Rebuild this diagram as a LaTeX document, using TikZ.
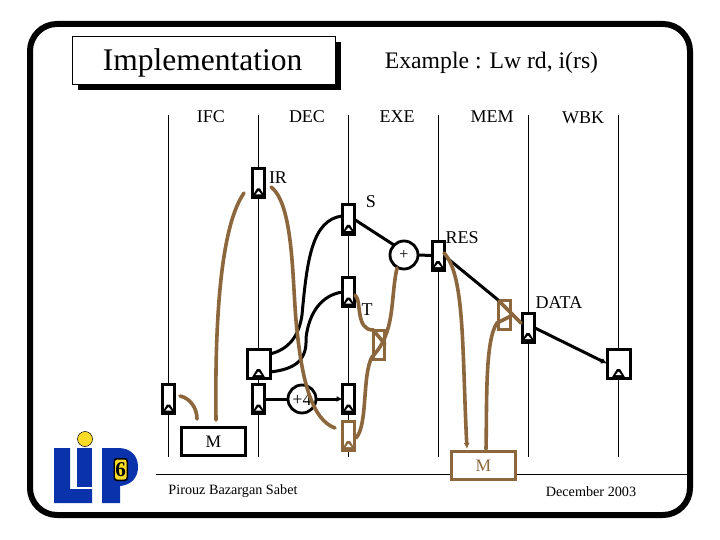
\documentclass[tikz,border=0pt]{standalone}
\usepackage{fontspec}
\setmainfont{Liberation Serif}
\usetikzlibrary{arrows.meta}
\definecolor{brn}{RGB}{140,102,60}
\definecolor{lipblue}{RGB}{10,50,170}
\definecolor{lipyel}{RGB}{250,220,40}
\tikzset{
  reg/.style={draw=black,line width=3pt,fill=white,minimum width=12pt,minimum height=29pt,inner sep=0pt,outer sep=0pt,
    path picture={\fill[black] ([xshift=-7pt]path picture bounding box.south) -- ([xshift=-1.5pt,yshift=9pt]path picture bounding box.south) -- ([xshift=1.5pt,yshift=9pt]path picture bounding box.south) -- ([xshift=7pt]path picture bounding box.south) -- cycle;
      \fill[white] ([xshift=-3pt,yshift=3pt]path picture bounding box.south) -- ([yshift=6.5pt]path picture bounding box.south) -- ([xshift=3pt,yshift=3pt]path picture bounding box.south) -- cycle;}},
  bigreg/.style={reg,minimum width=23pt},
  brnreg/.style={reg,draw=brn,
    path picture={\fill[brn] ([xshift=-7pt]path picture bounding box.south) -- ([xshift=-1.5pt,yshift=9pt]path picture bounding box.south) -- ([xshift=1.5pt,yshift=9pt]path picture bounding box.south) -- ([xshift=7pt]path picture bounding box.south) -- cycle;
      \fill[white] ([xshift=-3pt,yshift=3pt]path picture bounding box.south) -- ([yshift=6.5pt]path picture bounding box.south) -- ([xshift=3pt,yshift=3pt]path picture bounding box.south) -- cycle;}},
  muxbox/.style={draw=brn,line width=3pt,fill=white,minimum width=11.5pt,minimum height=29pt,inner sep=0pt,outer sep=0pt},
  adder/.style={circle,draw=black,line width=2.8pt,fill=white,minimum size=28pt,inner sep=0pt,outer sep=0pt,font=\fontsize{16}{16}\selectfont},
  membox/.style={draw=black,line width=3pt,fill=white,minimum width=64pt,minimum height=28pt,inner sep=0pt,outer sep=0pt,font=\fontsize{17.5}{17}\selectfont},
  stage/.style={font=\fontsize{18}{18}\selectfont,inner sep=0pt},
  lab/.style={font=\fontsize{18}{18}\selectfont,inner sep=0pt},
  foot/.style={font=\fontsize{14.2}{14}\selectfont,inner sep=0pt},
  vline/.style={black,line width=0.9pt},
  wire/.style={black,line width=3pt},
  bwire/.style={brn,line width=3.6pt,line cap=round},
  tip/.style={-{Latex[length=6pt,width=6pt]}}
}
\begin{document}
\begin{tikzpicture}[x=1pt,y=-1pt]
\fill[white] (0,0) rectangle (720,540);
\useasboundingbox (0,0) rectangle (720,540);
% frame
\draw[black,line width=6pt,rounded corners=27pt] (30,24) rectangle (690,515);
% title
\fill[black] (78,42) rectangle (341,90);
\node[draw=black,line width=0.8pt,fill=white,minimum width=263pt,minimum height=48pt,inner sep=0pt] (title) at (203.5,60) {};
\node[inner sep=0pt,font=\fontsize{31.5}{31}\selectfont] (titletext) at (202.5,63) {Implementation};
\node[inner sep=0pt,font=\fontsize{23.7}{24}\selectfont] (example) at (491.5,63) {Example : Lw rd, i(rs)};
% stage labels
\node[stage] (ifc) at (211,117) {IFC};
\node[stage] (dec) at (307,117) {DEC};
\node[stage] (exe) at (397,117) {EXE};
\node[stage] (mem) at (492,117) {MEM};
\node[stage] (wbk) at (583,118) {WBK};
% vertical stage lines
\foreach \n/\x in {a/168.5,b/258.5,c/348.5,d/438,e/528,f/618.5}{
  \coordinate (top\n) at (\x,115);
  \coordinate (bot\n) at (\x,457);
  \draw[vline] (top\n) -- (bot\n);
}
% bottom rule
\coordinate (ruleL) at (156,474);
\coordinate (ruleR) at (688,474);
\draw[black,line width=0.9pt] (ruleL) -- (ruleR);
% registers
\node[reg] (ir) at (258.5,183) {};
\node[reg] (s) at (348.5,219.5) {};
\node[reg] (t) at (348.5,292) {};
\node[bigreg] (decbig) at (258.5,363.5) {};
\node[reg] (ifcreg) at (168.5,399) {};
\node[reg] (decreg) at (258.5,399) {};
\node[reg] (exereg) at (348.5,399) {};
\node[brnreg] (exebrn) at (348.5,435.5) {};
\node[reg] (res) at (438,255.5) {};
\node[reg] (data) at (528,327.5) {};
\node[bigreg] (wbkbig) at (618.5,363.5) {};
% adders
\node[adder] (plus) at (404,255) {+};
\node[adder] (plusfour) at (302,399) {};
% memories
\node[membox] (imem) at (213.5,441.5) {M};
\node[membox,draw=brn,text=brn] (dmem) at (483.5,465.5) {M};
% mux boxes
\node[muxbox] (muxa) at (379,345) {};
\node[muxbox] (muxb) at (504.5,315) {};
% black connectors
\draw[wire] (s.east) -- (plus.north west);
\draw[wire] (plus.east) -- (res.west);
\draw[wire] (decreg.east) -- (plusfour.west);
\draw[wire,tip] (plusfour.east) -- (exereg.west);
\node[inner sep=0pt,font=\fontsize{18}{18}\selectfont] (pflabel) at (302,399.5) {+4};
\draw[wire] (decbig.east |- 0,354) .. controls (290,349) and (299,335) .. (302,315) .. controls (307,260) and (312,220) .. (342,216);
\draw[wire] (decbig.east |- 0,372) .. controls (298,369) and (307,358) .. (306,338) .. controls (309,312) and (322,295) .. (t.west);
\draw[wire] (res.east) -- (muxb.north west);
\draw[wire,tip] (data.east) -- (wbkbig.west);
% brown connectors
\coordinate (irIn) at (244,193);
\coordinate (mOut) at (216,420);
\draw[bwire] (mOut) .. controls (215,340) and (218,230) .. (irIn);
\coordinate (irOut) at (271,187);
\coordinate (exeIn) at (335,428);
\draw[bwire] (irOut) .. controls (295,205) and (292,290) .. (297,330) .. controls (302,380) and (312,420) .. (exeIn);
\coordinate (ifcOut) at (180,396);
\coordinate (imemIn) at (197,419);
\draw[bwire] (ifcOut) .. controls (190,398) and (197,408) .. (imemIn);
\coordinate (tOut) at (355,295);
\coordinate (muxaTL) at (373,330);
\coordinate (muxaR) at (385,344);
\draw[bwire] (tOut) .. controls (362,300) and (355,330) .. (muxaTL) -- (muxaR);
\coordinate (plusIn) at (397,268);
\coordinate (muxaBL) at (372,357);
\draw[bwire] (plusIn) .. controls (390,300) and (396,332) .. (muxaBL);
\coordinate (exeOut) at (356,438);
\draw[bwire] (exeOut) .. controls (368,425) and (362,375) .. (muxaBL);
\coordinate (resOut) at (444,253);
\coordinate (dmemIn) at (467,449);
\draw[bwire,tip] (resOut) .. controls (465,275) and (462,350) .. (dmemIn);
\coordinate (muxbBL) at (497,323);
\coordinate (muxbR) at (511,316);
\coordinate (dmemOut) at (486,449);
\draw[bwire] (dmemOut) .. controls (487,400) and (485,340) .. (muxbBL) -- (muxbR);
\coordinate (muxbTL) at (499,301);
\coordinate (dataIn) at (521,323);
\draw[bwire] (muxbTL) -- (dataIn);
% labels
\node[lab] (lir) at (278,178) {IR};
\node[lab] (ls) at (371,202) {S};
\node[lab] (lres) at (462,238) {RES};
\node[lab] (lt) at (367,310) {T};
\node[lab] (ldata) at (559,303) {DATA};
\node[foot] (author) at (233,491.5) {Pirouz Bazargan Sabet};
\node[foot] (datee) at (591,491.5) {December 2003};
% logo
\fill[lipblue] (54,448) -- (70,448) -- (70,489) -- (92,489) -- (92,503) -- (54,503) -- cycle;
\fill[lipblue] (77,448) rectangle (92,487);
\fill[lipblue] (102,448) -- (118,448) .. controls (131,448) and (138,456) .. (138,467) .. controls (138,478) and (131,485) .. (120,486) -- (120,503) -- (102,503) -- cycle;
\fill[lipyel,draw=black,line width=0.5pt] (85,439) circle (7.5);
\fill[black,rounded corners=3pt] (113.5,458) rectangle (128,481);
\fill[lipyel,rounded corners=2.5pt] (115,459.5) rectangle (126.5,479.5);
\node[inner sep=0pt,font=\fontsize{21}{21}\selectfont\bfseries,text=black] (six) at (120.7,469.5) {6};
\end{tikzpicture}
\end{document}
